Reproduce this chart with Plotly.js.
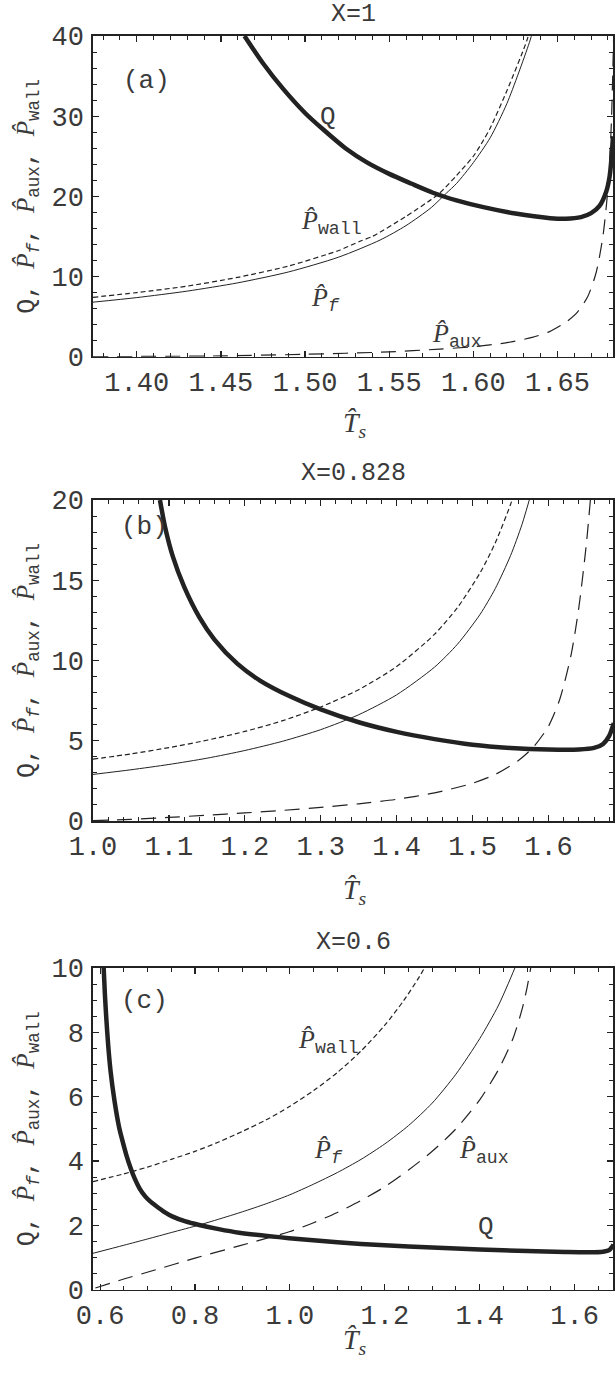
<!DOCTYPE html>
<html>
<head>
<meta charset="utf-8">
<script src="https://cdn.plot.ly/plotly-3.0.1.min.js"></script>
<style>
  body { margin: 0; background: #fff; }
  #chart { width: 616px; height: 1374px; }
</style>
</head>
<body>
<div id="chart"></div>
<script>
// panel (a) X=1
var tsA_Q  = [1.464, 1.475, 1.487, 1.50, 1.511, 1.524, 1.537, 1.55, 1.563, 1.576, 1.59, 1.606, 1.625, 1.6457, 1.655, 1.664, 1.670, 1.675, 1.679, 1.681, 1.682, 1.683];
var qA     = [40, 36.6, 33.4, 30.4, 28.3, 26.0, 24.2, 22.8, 21.6, 20.45, 19.5, 18.65, 17.85, 17.28, 17.2, 17.4, 17.9, 18.8, 20.6, 22.5, 24.5, 27.5];
var tsA_P  = [1.374, 1.40, 1.43, 1.46, 1.49, 1.52, 1.5446, 1.56, 1.575, 1.584, 1.59, 1.60, 1.61, 1.62, 1.6338, 1.637];
var pfA    = [6.8, 7.37, 8.18, 9.21, 10.56, 12.42, 14.55, 16.35, 18.6, 20.4, 21.6, 24.2, 27.3, 31.6, 39.5, 42];
var tsA_W  = [1.374, 1.40, 1.43, 1.46, 1.49, 1.52, 1.5327, 1.54, 1.56, 1.575, 1.58, 1.59, 1.60, 1.606, 1.61, 1.62, 1.6319, 1.635];
var pwallA = [7.4, 8.0, 8.8, 9.9, 11.3, 13.25, 14.4, 15.0, 17.5, 19.6, 20.4, 22.6, 25.0, 27.0, 28.5, 33.2, 39.5, 42];
var tsA_X  = [1.374, 1.45, 1.50, 1.55, 1.58, 1.60, 1.62, 1.635, 1.645, 1.655, 1.662, 1.668, 1.673, 1.677, 1.680, 1.682, 1.6835];
var pauxA  = [0.0, 0.1, 0.3, 0.6, 0.95, 1.25, 1.75, 2.4, 3.1, 4.3, 5.6, 7.5, 10.5, 15, 21, 29, 41];

// panel (b) X=0.828
var tsB_Q  = [1.0882, 1.095, 1.105, 1.12, 1.14, 1.16, 1.19, 1.22, 1.26, 1.30, 1.35, 1.40, 1.45, 1.50, 1.55, 1.60, 1.64, 1.66, 1.672, 1.68, 1.686];
var qB     = [20, 18.3, 16.5, 14.6, 12.7, 11.3, 9.8, 8.75, 7.75, 6.95, 6.15, 5.55, 5.1, 4.75, 4.55, 4.45, 4.45, 4.55, 4.8, 5.3, 6.1];
var tsB_P  = [1.0, 1.05, 1.10, 1.15, 1.20, 1.25, 1.30, 1.35, 1.40, 1.45, 1.48, 1.51, 1.53, 1.55, 1.565, 1.58];
var pfB    = [2.9, 3.19, 3.52, 3.91, 4.39, 4.97, 5.69, 6.62, 7.86, 9.59, 11.01, 12.88, 14.49, 16.53, 18.46, 20.87];
var tsB_W  = [1.0, 1.05, 1.10, 1.15, 1.20, 1.25, 1.30, 1.35, 1.40, 1.45, 1.48, 1.51, 1.53, 1.55, 1.56];
var pwallB = [3.85, 4.18, 4.57, 5.03, 5.58, 6.25, 7.1, 8.18, 9.62, 11.64, 13.29, 15.47, 17.34, 19.72, 21.2];
var tsB_X  = [1.0, 1.05, 1.10, 1.15, 1.20, 1.25, 1.30, 1.35, 1.40, 1.45, 1.50, 1.53, 1.56, 1.58, 1.60, 1.615, 1.63, 1.64, 1.65, 1.657];
var pauxB  = [0.02, 0.1, 0.22, 0.36, 0.5, 0.66, 0.85, 1.07, 1.35, 1.75, 2.35, 2.9, 3.75, 4.6, 5.9, 7.6, 10.4, 13.3, 17.3, 21];

// panel (c) X=0.6
var tsC_Q  = [0.6075, 0.610, 0.613, 0.617, 0.622, 0.630, 0.640, 0.6476, 0.655, 0.665, 0.673, 0.683, 0.695, 0.705, 0.718, 0.735, 0.753, 0.78, 0.809, 0.85, 0.893, 0.9985, 1.1, 1.2, 1.3, 1.4, 1.5, 1.58, 1.63, 1.66, 1.673, 1.682];
var qC     = [10.0, 9.2, 8.45, 7.6, 6.8, 5.9, 5.05, 4.6, 4.2, 3.75, 3.45, 3.15, 2.9, 2.75, 2.6, 2.42, 2.27, 2.12, 2.01, 1.88, 1.77, 1.60, 1.47, 1.38, 1.31, 1.25, 1.2, 1.17, 1.16, 1.18, 1.23, 1.4];
var tsC_P  = [0.585, 0.65, 0.70, 0.75, 0.809, 0.85, 0.90, 0.95, 1.0, 1.05, 1.10, 1.15, 1.20, 1.25, 1.30, 1.35, 1.40, 1.44, 1.477, 1.485];
var pfC    = [1.13, 1.38, 1.575, 1.775, 2.01, 2.19, 2.42, 2.67, 2.95, 3.28, 3.64, 4.05, 4.53, 5.1, 5.8, 6.7, 7.8, 8.85, 10.1, 10.4];
var tsC_W  = [0.585, 0.65, 0.70, 0.75, 0.80, 0.85, 0.90, 0.95, 1.00, 1.05, 1.10, 1.15, 1.20, 1.24, 1.27, 1.29];
var pwallC = [3.36, 3.60, 3.81, 4.05, 4.30, 4.59, 4.92, 5.28, 5.70, 6.19, 6.75, 7.42, 8.22, 8.99, 9.66, 10.16];
var tsC_X  = [0.59, 0.65, 0.718, 0.80, 0.893, 0.9985, 1.05, 1.10, 1.15, 1.20, 1.25, 1.30, 1.35, 1.40, 1.44, 1.47, 1.49, 1.50, 1.51];
var pauxC  = [0.05, 0.33, 0.62, 0.98, 1.36, 1.80, 2.08, 2.4, 2.77, 3.2, 3.72, 4.3, 5.0, 5.9, 6.85, 7.8, 8.75, 9.4, 10.2];

var panelTitles = ["X=1", "X=0.828", "X=0.6"];
var panelTags = ["(a)", "(b)", "(c)"];

var ink = "#222";
var grey = "#3a3a3a";
var mono = "Liberation Mono, Courier New, monospace";
var serif = "Liberation Serif, Times New Roman, serif";

function curves(ax, ts, q, tp, pf, tw, pw, tx, pa) {
    var xa = "x" + ax, ya = "y" + ax;
    var sm = 0.7;
    return [
        {x: tp, y: pf, xaxis: xa, yaxis: ya, mode: "lines", line: {color: ink, width: 1, shape: "spline", smoothing: sm}},
        {x: tw, y: pw, xaxis: xa, yaxis: ya, mode: "lines", line: {color: ink, width: 1.2, dash: "5px,3px", shape: "spline", smoothing: sm}},
        {x: tx, y: pa, xaxis: xa, yaxis: ya, mode: "lines", line: {color: ink, width: 1.2, dash: "15px,9px", shape: "spline", smoothing: sm}},
        {x: ts, y: q, xaxis: xa, yaxis: ya, mode: "lines", line: {color: ink, width: 4.5, shape: "spline", smoothing: sm}}
    ];
}

var data = [].concat(
    curves("", tsA_Q, qA, tsA_P, pfA, tsA_W, pwallA, tsA_X, pauxA),
    curves("2", tsB_Q, qB, tsB_P, pfB, tsB_W, pwallB, tsB_X, pauxB),
    curves("3", tsC_Q, qC, tsC_P, pfC, tsC_W, pwallC, tsC_X, pauxC)
);

var hatP = "<span style=\"font-family:" + serif + "\"><i>P\u0302</i></span>";
var yTitle = "Q, " + hatP + "<sub><i>f</i></sub>, " + hatP + "<sub>aux</sub>, " + hatP + "<sub>wall</sub>";
var xTitle = "<i>T\u0302</i><sub><i>s</i></sub>";

function xAxis(range, tick0, dtick, fmt, minor, anchor) {
    return {
        range: range, tick0: tick0, dtick: dtick, tickformat: fmt, anchor: anchor,
        showgrid: false, zeroline: false, showline: true, linecolor: ink, linewidth: 1.6,
        mirror: "ticks", ticks: "inside", ticklen: 6, tickcolor: ink, tickwidth: 1.2,
        minor: {dtick: minor, tick0: tick0, ticks: "inside", ticklen: 4, tickcolor: ink, tickwidth: 1},
        tickfont: {family: mono, size: 27, color: grey},
        ticklabelstandoff: 0
    };
}

function yAxis(range, dtick, minor, domain, anchor) {
    return {
        range: range, dtick: dtick, domain: domain, anchor: anchor,
        showgrid: false, zeroline: false, showline: true, linecolor: ink, linewidth: 1.6,
        mirror: "ticks", ticks: "inside", ticklen: 6, tickcolor: ink, tickwidth: 1.2,
        minor: {dtick: minor, ticks: "inside", ticklen: 4, tickcolor: ink, tickwidth: 1},
        tickfont: {family: mono, size: 27, color: grey},
        ticklabelstandoff: 2,
        title: {text: yTitle, font: {family: mono, size: 25, color: grey}, standoff: 10}
    };
}

function label(ax, x, y, text) {
    return {xref: "x" + ax, yref: "y" + ax, x: x, y: y, text: text, showarrow: false,
            font: {family: mono, size: 26, color: grey}};
}

function paperText(px, py, text, font) {
    return {xref: "paper", yref: "paper", x: (px - 93) / 520, y: 1 - py / 1374, text: text,
            xanchor: "center", yanchor: "middle", showarrow: false, font: font};
}

var pf = hatP + "<sub><i>f</i></sub>";
var pwall = hatP + "<sub>wall</sub>";
var paux = hatP + "<sub>aux</sub>";
var titleFont = {family: mono, size: 25, color: grey};
var xTitleFont = {family: serif, size: 28, color: grey};

var annotations = [
    paperText(353, 15, panelTitles[0], titleFont),
    paperText(353, 473, panelTitles[1], titleFont),
    paperText(353, 942, panelTitles[2], titleFont),
    paperText(355, 424, xTitle, xTitleFont),
    paperText(355, 891, xTitle, xTitleFont),
    paperText(355, 1341, xTitle, xTitleFont),
    label("", 1.406, 34.4, panelTags[0]),
    label("2", 1.068, 18.3, panelTags[1]),
    label("3", 0.693, 8.96, panelTags[2]),
    label("", 1.5138, 29.9, "Q"),
    label("", 1.516, 16.7, pwall),
    label("", 1.512, 7.1, pf),
    label("", 1.59, 2.6, paux),
    label("3", 1.081, 7.7, pwall),
    label("3", 1.081, 4.3, pf),
    label("3", 1.41, 4.3, paux),
    label("3", 1.414, 1.95, "Q")
];

var layout = {
    width: 616, height: 1374,
    margin: {l: 93, r: 3, t: 0, b: 0},
    paper_bgcolor: "#fff", plot_bgcolor: "#fff",
    showlegend: false,
    xaxis: xAxis([1.374, 1.683], 1.4, 0.05, ".2f", 0.01, "y"),
    yaxis: yAxis([0, 40], 10, 2, [0.7404, 0.9738], "x"),
    xaxis2: xAxis([1.0, 1.685], 1.0, 0.1, ".1f", 0.02, "y2"),
    yaxis2: yAxis([0, 20], 5, 1, [0.4025, 0.6361], "x2"),
    xaxis3: xAxis([0.585, 1.681], 0.6, 0.2, ".1f", 0.05, "y3"),
    yaxis3: yAxis([0, 10], 2, 0.5, [0.0614, 0.2955], "x3"),
    annotations: annotations
};

Plotly.newPlot("chart", data, layout, {staticPlot: true});
</script>
</body>
</html>
